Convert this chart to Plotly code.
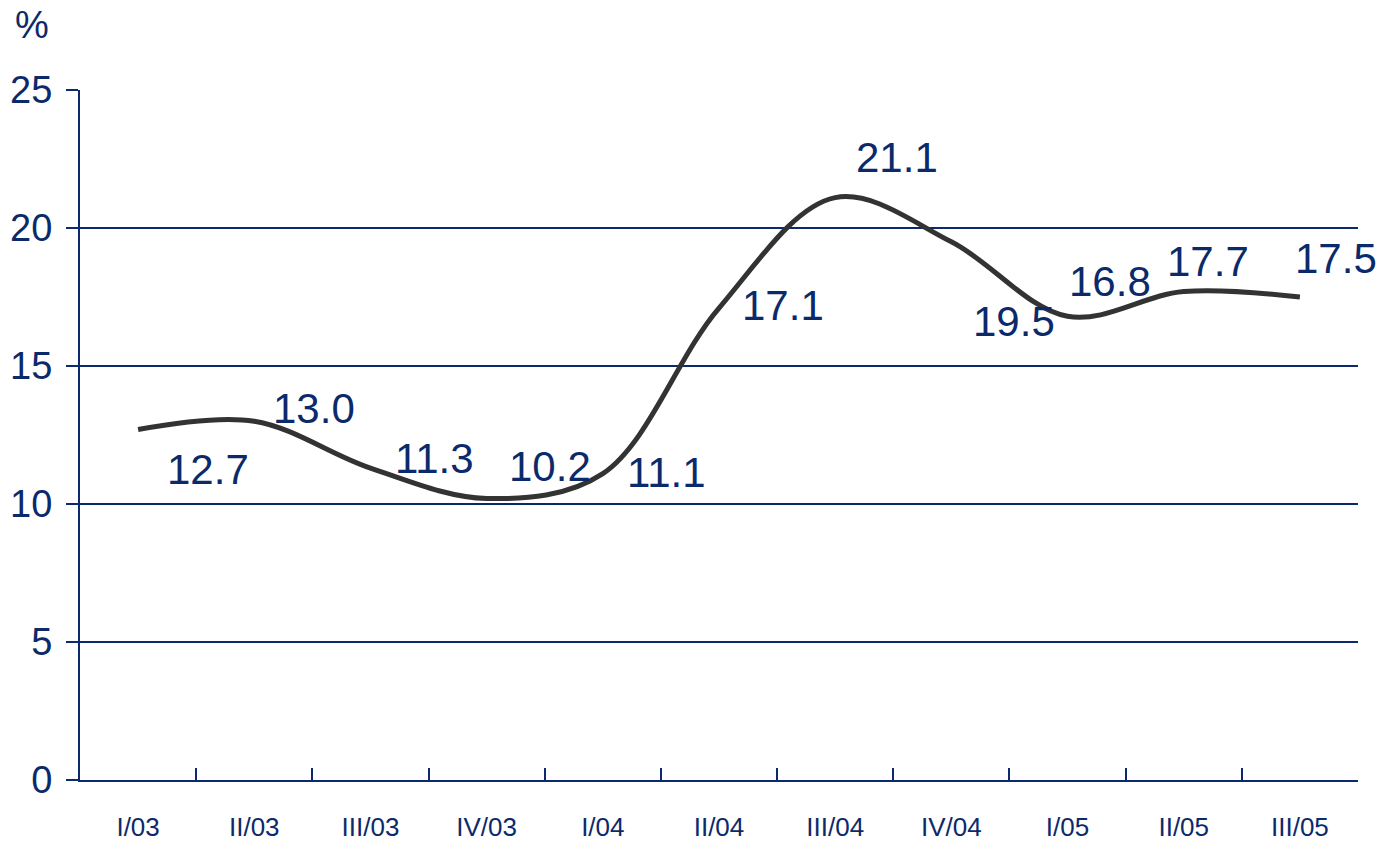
import plotly.graph_objects as go

# Quarterly series (%)
quarters = ["I/03", "II/03", "III/03", "IV/03", "I/04", "II/04",
            "III/04", "IV/04", "I/05", "II/05", "III/05"]
values = [12.7, 13.0, 11.3, 10.2, 11.1, 17.1, 21.1, 19.5, 16.8, 17.7, 17.5]

# Pixel offsets of each value label relative to its point
label_dx = [70, 60, 64, 63, 64, 64, 62, 63, 42, 24, 36]
label_dy = [-40, 13, 10, 32, 1, 3, 40, -80, 35, 30, 39]

NAVY = "#0b2a6b"
FONT = "Liberation Sans Narrow, Arial Narrow, Liberation Sans, Arial, sans-serif"

fig = go.Figure()
fig.add_trace(go.Scatter(
    x=quarters, y=values, mode="lines",
    line=dict(color="#333333", width=5, shape="spline", smoothing=1.0),
    hoverinfo="x+y", showlegend=False,
))

for q, v, dx, dy in zip(quarters, values, label_dx, label_dy):
    fig.add_annotation(
        x=q, y=v, text=f"{v:.1f}", showarrow=False,
        xshift=dx, yshift=dy, xanchor="center", yanchor="middle",
        font=dict(family=FONT, size=42, color=NAVY),
    )

fig.add_annotation(
    xref="paper", yref="paper", x=0, y=1, text="%", showarrow=False,
    xshift=-48, yshift=65, xanchor="center", yanchor="middle",
    font=dict(family=FONT, size=38, color=NAVY),
)

fig.update_layout(
    width=1395, height=847,
    margin=dict(l=80, r=37, t=90, b=67),
    paper_bgcolor="white", plot_bgcolor="white",
    font=dict(family=FONT, color=NAVY),
    xaxis=dict(
        type="category", range=[-0.5, 10.5], automargin=False,
        showgrid=False, showline=True, linecolor=NAVY, linewidth=2,
        ticks="inside", tickson="boundaries", ticklen=12, tickwidth=2,
        tickcolor=NAVY, tickfont=dict(family=FONT, size=26, color=NAVY),
        ticklabelstandoff=23, zeroline=False,
    ),
    yaxis=dict(
        range=[0, 25], dtick=5, tick0=0, automargin=False,
        showgrid=True, gridcolor=NAVY, gridwidth=2,
        showline=True, linecolor=NAVY, linewidth=2,
        ticks="outside", ticklen=12, tickwidth=2, tickcolor=NAVY,
        tickfont=dict(family=FONT, size=38, color=NAVY),
        ticklabelstandoff=6, zeroline=False,
    ),
)

fig.write_html("out.html")
